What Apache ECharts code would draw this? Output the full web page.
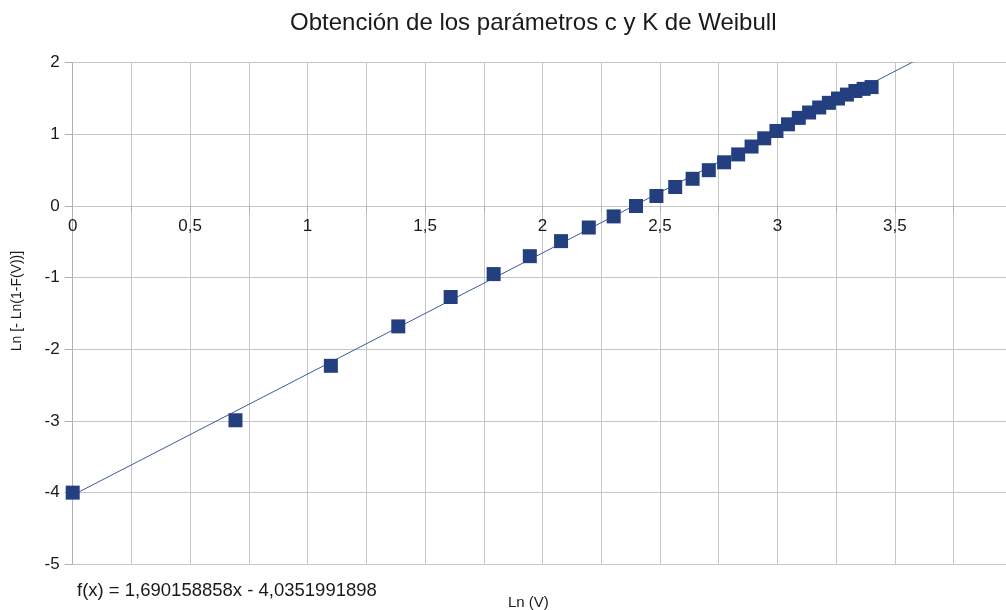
<!DOCTYPE html>
<html>
<head>
<meta charset="utf-8">
<title>Weibull</title>
<script src="https://cdn.jsdelivr.net/npm/echarts@6/dist/echarts.min.js"></script>
<style>
  html, body { margin: 0; padding: 0; background: #ffffff; }
  #chart { width: 1006px; height: 610px; }
</style>
</head>
<body>
<div id="chart"></div>
<script>
// Ln(V) for wind speeds V = 1 … 30 m/s
const lnV = [0, 0.693, 1.099, 1.386, 1.609, 1.792, 1.946, 2.079, 2.197, 2.303,
             2.398, 2.485, 2.565, 2.639, 2.708, 2.773, 2.833, 2.890, 2.944, 2.996,
             3.045, 3.091, 3.135, 3.178, 3.219, 3.258, 3.296, 3.332, 3.367, 3.401];
// Ln[-Ln(1-F(V))]
const lnLnF = [-4.00, -2.99, -2.23, -1.68, -1.27, -0.95, -0.70, -0.49, -0.30, -0.145,
               0.00, 0.14, 0.265, 0.38, 0.50, 0.61, 0.72, 0.83, 0.945, 1.047,
               1.14, 1.23, 1.305, 1.375, 1.44, 1.50, 1.555, 1.605, 1.635, 1.66];

// Linear regression f(x) = a·x + b
const trendSlope = 1.690158858;
const trendIntercept = -4.0351991898;
const trendLabel = 'f(x) = 1,690158858x - 4,0351991898';

const xRange = [0, 4];
const yRange = [-5, 2];

const FONT = '"Liberation Sans", Arial, sans-serif';
const GRID = '#c6c6c6';
const AXIS = '#b0b0b0';

const CHART_H = 610;
const gridBox = { left: 72.7, right: -6.3, top: 62.7, bottom: 45.7 };
const plotH = CHART_H - gridBox.top - gridBox.bottom;
// the horizontal axis crosses the vertical one at y = 0
const xAxisOffset = -((0 - yRange[0]) / (yRange[1] - yRange[0])) * plotH;

const points = lnV.map((x, i) => [x, lnLnF[i]]);
const trend = xRange.map(x => [x, trendSlope * x + trendIntercept]);

const chart = echarts.init(document.getElementById('chart'), null, { renderer: 'canvas' });

chart.setOption({
  animation: false,
  backgroundColor: '#ffffff',
  title: {
    text: 'Obtención de los parámetros c y K de Weibull',
    left: 290,
    top: 11,
    padding: 0,
    textStyle: { fontFamily: FONT, fontSize: 24, fontWeight: 'normal', color: '#1a1a1a' }
  },
  grid: Object.assign({ containLabel: false, outerBoundsMode: 'none' }, gridBox),
  xAxis: {
    type: 'value',
    min: xRange[0],
    max: xRange[1],
    interval: 0.25,
    position: 'bottom',
    offset: xAxisOffset,
    axisLine: { show: true, onZero: false, lineStyle: { color: GRID, width: 1 } },
    axisTick: { show: true, length: 7, lineStyle: { color: AXIS } },
    axisLabel: {
      margin: 12,
      fontFamily: FONT,
      fontSize: 17,
      color: '#1a1a1a',
      formatter: v => (Math.abs(v * 2 - Math.round(v * 2)) < 1e-9 ? String(v).replace('.', ',') : '')
    },
    splitLine: { show: true, lineStyle: { color: GRID, width: 1 } }
  },
  yAxis: {
    type: 'value',
    min: yRange[0],
    max: yRange[1],
    interval: 1,
    name: 'Ln [- Ln(1-F(V))]',
    nameLocation: 'middle',
    nameGap: 49,
    nameRotate: 90,
    nameTextStyle: { fontFamily: FONT, fontSize: 14, color: '#1a1a1a', padding: [0, 0, 0, 25] },
    axisLine: { show: true, onZero: false, lineStyle: { color: AXIS, width: 1 } },
    axisTick: { show: true, length: 8, lineStyle: { color: AXIS } },
    axisLabel: { margin: 13, fontFamily: FONT, fontSize: 17, color: '#1a1a1a' },
    splitLine: { show: true, lineStyle: { color: GRID, width: 1 } }
  },
  graphic: [
    {
      type: 'text',
      left: 77,
      top: 581,
      style: { text: trendLabel, fontFamily: FONT, fontSize: 18.5, fill: '#1a1a1a' }
    },
    {
      type: 'text',
      left: 508,
      top: 595,
      style: { text: 'Ln (V)', fontFamily: FONT, fontSize: 15, fill: '#1a1a1a' }
    }
  ],
  series: [
    {
      name: 'Tendencia',
      type: 'line',
      data: trend,
      showSymbol: false,
      symbol: 'none',
      clip: true,
      lineStyle: { color: '#3b5a9e', width: 1 },
      z: 2
    },
    {
      name: 'Ln[-Ln(1-F(V))]',
      type: 'scatter',
      data: points,
      symbol: 'rect',
      symbolSize: 14,
      itemStyle: { color: '#243f7f', opacity: 1 },
      z: 3
    }
  ]
});
</script>
</body>
</html>
